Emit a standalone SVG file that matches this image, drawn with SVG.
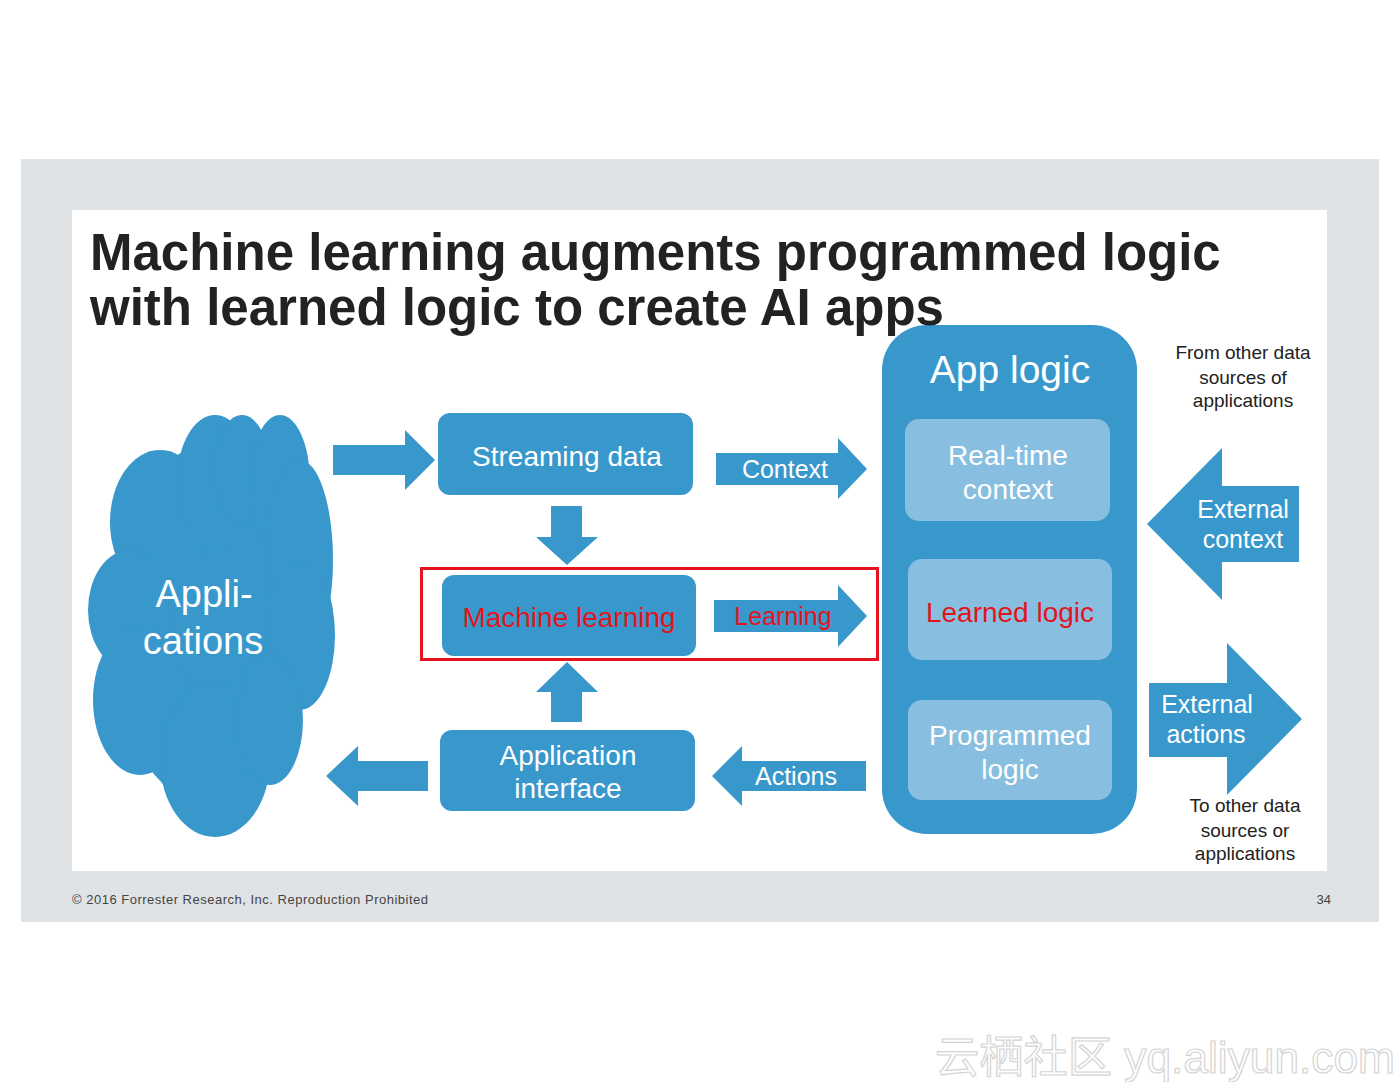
<svg xmlns="http://www.w3.org/2000/svg" width="1400" height="1082" viewBox="0 0 1400 1082">
<style>
.b{fill:#3898CC}
.lb{fill:#88BEE0}
.w{fill:#fff;font-family:"Liberation Sans",Arial,sans-serif;text-anchor:middle}
.r{fill:#E3141C;font-family:"Liberation Sans",Arial,sans-serif;text-anchor:middle}
.d{fill:#222;font-family:"Liberation Sans",Arial,sans-serif;text-anchor:middle;font-size:19px}
</style>
<rect x="0" y="0" width="1400" height="1082" fill="#fff"/>
<rect x="21" y="159" width="1358" height="763" fill="#E0E3E5"/>
<rect x="72" y="210" width="1255" height="661" fill="#fff"/>

<g id="applications">
<g class="b">
<ellipse cx="210" cy="625" rx="100" ry="180"/>
<ellipse cx="160" cy="522" rx="50" ry="72"/>
<ellipse cx="215" cy="482" rx="38" ry="67"/>
<ellipse cx="242" cy="470" rx="28" ry="55"/>
<ellipse cx="280" cy="482" rx="30" ry="67"/>
<ellipse cx="300" cy="560" rx="33" ry="100"/>
<ellipse cx="300" cy="635" rx="35" ry="75"/>
<ellipse cx="130" cy="610" rx="42" ry="60"/>
<ellipse cx="140" cy="700" rx="47" ry="75"/>
<ellipse cx="215" cy="760" rx="55" ry="77"/>
<ellipse cx="270" cy="720" rx="33" ry="65"/>
</g>
<text class="w" x="204" y="607" font-size="38">Appli-</text>
<text class="w" x="203" y="654" font-size="38">cations</text>
</g>

<g id="connectors" class="b">
<polygon points="333,445 405,445 405,430 435,460 405,490 405,475 333,475"/>
<polygon points="551,506 582,506 582,537 598,537 567,565 536,537 551,537"/>
<polygon points="551,722 582,722 582,692 598,692 567,662 536,692 551,692"/>
<polygon points="716,453 838,453 838,438 867,469 838,499 838,485 716,485"/>
<polygon points="714,600 838,600 838,585 867,616 838,647 838,632 714,632"/>
<polygon points="866,761 742,761 742,746 712,776 742,806 742,791 866,791"/>
<polygon points="428,761 358,761 358,746 326,776 358,806 358,791 428,791"/>
<text class="w" x="785" y="478" font-size="25">Context</text>
<text class="r" x="783" y="625" font-size="25">Learning</text>
<text class="w" x="796" y="785" font-size="25">Actions</text>
</g>

<g id="streaming-data">
<rect class="b" x="438" y="413" width="255" height="82" rx="12"/>
<text class="w" x="567" y="466" font-size="28">Streaming data</text>
</g>

<g id="machine-learning">
<rect class="b" x="442" y="575" width="254" height="81" rx="12"/>
<text class="r" x="569" y="627" font-size="28">Machine learning</text>
</g>
<rect id="highlight" x="421.5" y="568.5" width="456" height="91" fill="none" stroke="#E3141C" stroke-width="3"/>

<g id="application-interface">
<rect class="b" x="440" y="730" width="255" height="81" rx="12"/>
<text class="w" x="568" y="765" font-size="28">Application</text>
<text class="w" x="568" y="798" font-size="28">interface</text>
</g>

<g id="app-logic">
<rect class="b" x="882" y="325" width="255" height="509" rx="45"/>
<text class="w" x="1010" y="383" font-size="39">App logic</text>
</g>
<g id="real-time-context">
<rect class="lb" x="905" y="419" width="205" height="102" rx="14"/>
<text class="w" x="1008" y="465" font-size="28">Real-time</text>
<text class="w" x="1008" y="499" font-size="28">context</text>
</g>
<g id="learned-logic">
<rect class="lb" x="908" y="559" width="204" height="101" rx="14"/>
<text class="r" x="1010" y="622" font-size="28">Learned logic</text>
</g>
<g id="programmed-logic">
<rect class="lb" x="908" y="700" width="204" height="100" rx="14"/>
<text class="w" x="1010" y="745" font-size="28">Programmed</text>
<text class="w" x="1010" y="779" font-size="28">logic</text>
</g>

<g id="external-context">
<polygon class="b" points="1299,486 1222,486 1222,448 1147,524 1222,600 1222,562 1299,562"/>
<text class="w" x="1243" y="518" font-size="25">External</text>
<text class="w" x="1243" y="548" font-size="25">context</text>
</g>
<g id="external-actions">
<polygon class="b" points="1149,683 1227,683 1227,643 1302,719 1227,795 1227,757 1149,757"/>
<text class="w" x="1207" y="713" font-size="25">External</text>
<text class="w" x="1206" y="743" font-size="25">actions</text>
</g>

<g id="from-label">
<text class="d" x="1243" y="359">From other data</text>
<text class="d" x="1243" y="384">sources of</text>
<text class="d" x="1243" y="407">applications</text>
</g>
<g id="to-label">
<text class="d" x="1245" y="812">To other data</text>
<text class="d" x="1245" y="837">sources or</text>
<text class="d" x="1245" y="860">applications</text>
</g>

<g id="title" font-family="'Liberation Sans',Arial,sans-serif" font-weight="bold" font-size="51" fill="#222">
<text x="90" y="270">Machine learning augments programmed logic</text>
<text x="90" y="325">with learned logic to create AI apps</text>
</g>

<g id="footer" font-family="'Liberation Sans',Arial,sans-serif" font-size="13" fill="#444">
<text x="72" y="904" textLength="356">© 2016 Forrester Research, Inc. Reproduction Prohibited</text>
<text x="1331" y="904" text-anchor="end">34</text>
</g>

<text id="watermark" x="935" y="1073" textLength="460" lengthAdjust="spacingAndGlyphs" font-family="'Liberation Sans','Noto Sans CJK SC',sans-serif" font-size="44" fill="#fff" stroke="#D4D4D4" stroke-width="1.2">云栖社区 yq.aliyun.com</text>
</svg>
